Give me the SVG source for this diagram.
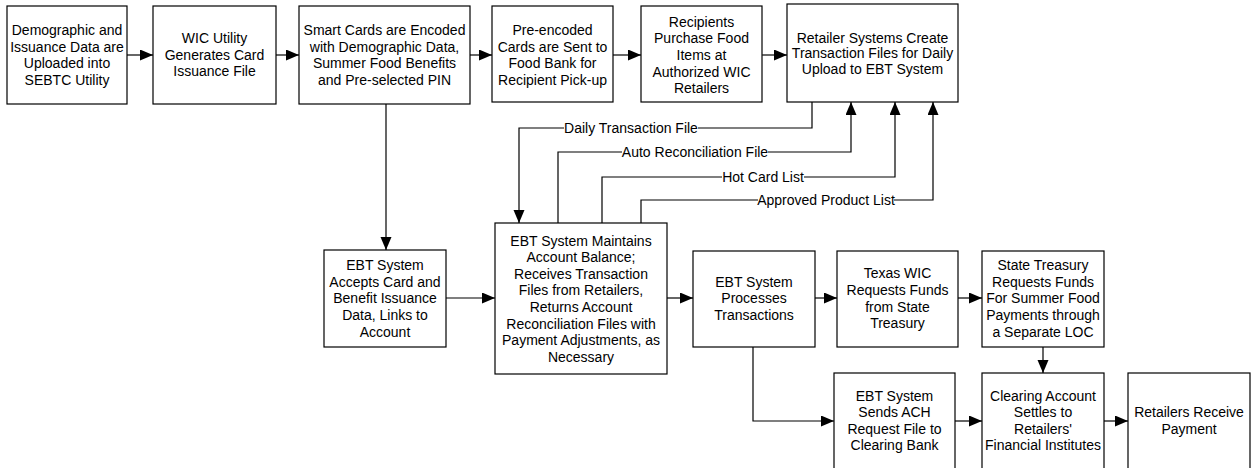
<svg xmlns="http://www.w3.org/2000/svg" width="1254" height="468" viewBox="0 0 1254 468">
<style>
.box{fill:#fff;stroke:#000;stroke-width:1.2}
.t{font-family:"Liberation Sans",Arial,sans-serif;font-size:14px;fill:#000;text-anchor:middle}
.c{fill:none;stroke:#000;stroke-width:1.2}
.bg{fill:#fff}
.lbl{font-family:"Liberation Sans",Arial,sans-serif;font-size:14px;fill:#000;text-anchor:middle}
</style>
<defs>
<marker id="ah" markerUnits="userSpaceOnUse" markerWidth="14" markerHeight="12" refX="13" refY="5.5" orient="auto">
<path d="M0,0 L13,5.5 L0,11 z" fill="#000"/>
</marker>
</defs>
<rect width="1254" height="468" fill="#fff"/>
<g id="connectors">
<path class="c" d="M127,55 H153" marker-end="url(#ah)"/>
<path class="c" d="M276,55 H299" marker-end="url(#ah)"/>
<path class="c" d="M470,55 H492" marker-end="url(#ah)"/>
<path class="c" d="M613,55 H641" marker-end="url(#ah)"/>
<path class="c" d="M762,55 H787" marker-end="url(#ah)"/>
<path class="c" d="M386,104 V250" marker-end="url(#ah)"/>
<path class="c" d="M446,298 H495" marker-end="url(#ah)"/>
<path class="c" d="M812,102 V128 H519 V223" marker-end="url(#ah)"/>
<path class="c" d="M558,223 V152 H851 V102" marker-end="url(#ah)"/>
<path class="c" d="M602,223 V177 H895 V102" marker-end="url(#ah)"/>
<path class="c" d="M641,223 V200 H933 V102" marker-end="url(#ah)"/>
<path class="c" d="M667,298 H693" marker-end="url(#ah)"/>
<path class="c" d="M815,298 H837" marker-end="url(#ah)"/>
<path class="c" d="M958,298 H982" marker-end="url(#ah)"/>
<path class="c" d="M1043,347 V373" marker-end="url(#ah)"/>
<path class="c" d="M753,347 V421 H834" marker-end="url(#ah)"/>
<path class="c" d="M955,421 H982" marker-end="url(#ah)"/>
<path class="c" d="M1104,421 H1128" marker-end="url(#ah)"/>
<rect class="bg" x="564" y="121" width="134" height="14"/>
<text class="lbl" x="631" y="133">Daily Transaction File</text>
<rect class="bg" x="622" y="145" width="146" height="14"/>
<text class="lbl" x="695" y="157">Auto Reconciliation File</text>
<rect class="bg" x="722" y="170" width="82" height="14"/>
<text class="lbl" x="763" y="182">Hot Card List</text>
<rect class="bg" x="758" y="193" width="136" height="14"/>
<text class="lbl" x="826" y="205">Approved Product List</text>
</g>
<g id="n1">
<rect class="box" x="7" y="6" width="120" height="98"/>
<text class="t"><tspan x="67" y="35">Demographic and</tspan><tspan x="67" y="52">Issuance Data are</tspan><tspan x="67" y="68">Uploaded into</tspan><tspan x="67" y="85">SEBTC Utility</tspan></text>
</g>
<g id="n2">
<rect class="box" x="153" y="6" width="123" height="98"/>
<text class="t"><tspan x="214.5" y="43">WIC Utility</tspan><tspan x="214.5" y="60">Generates Card</tspan><tspan x="214.5" y="76">Issuance File</tspan></text>
</g>
<g id="n3">
<rect class="box" x="299" y="6" width="171" height="98"/>
<text class="t"><tspan x="384.5" y="35">Smart Cards are Encoded</tspan><tspan x="384.5" y="52">with Demographic Data,</tspan><tspan x="384.5" y="68">Summer Food Benefits</tspan><tspan x="384.5" y="85">and Pre-selected PIN</tspan></text>
</g>
<g id="n4">
<rect class="box" x="492" y="6" width="121" height="96"/>
<text class="t"><tspan x="552.5" y="35">Pre-encoded</tspan><tspan x="552.5" y="52">Cards are Sent to</tspan><tspan x="552.5" y="68">Food Bank for</tspan><tspan x="552.5" y="85">Recipient Pick-up</tspan></text>
</g>
<g id="n5">
<rect class="box" x="641" y="6" width="121" height="96"/>
<text class="t"><tspan x="701.5" y="27">Recipients</tspan><tspan x="701.5" y="43">Purchase Food</tspan><tspan x="701.5" y="60">Items at</tspan><tspan x="701.5" y="77">Authorized WIC</tspan><tspan x="701.5" y="93">Retailers</tspan></text>
</g>
<g id="n6">
<rect class="box" x="787" y="4" width="171" height="98"/>
<text class="t"><tspan x="872.5" y="43">Retailer Systems Create</tspan><tspan x="872.5" y="58">Transaction Files for Daily</tspan><tspan x="872.5" y="74">Upload to EBT System</tspan></text>
</g>
<g id="n7">
<rect class="box" x="324" y="250" width="122" height="97"/>
<text class="t"><tspan x="385" y="270">EBT System</tspan><tspan x="385" y="287">Accepts Card and</tspan><tspan x="385" y="303">Benefit Issuance</tspan><tspan x="385" y="320">Data, Links to</tspan><tspan x="385" y="337">Account</tspan></text>
</g>
<g id="n8">
<rect class="box" x="495" y="223" width="172" height="151"/>
<text class="t"><tspan x="581" y="246">EBT System Maintains</tspan><tspan x="581" y="262">Account Balance;</tspan><tspan x="581" y="279">Receives Transaction</tspan><tspan x="581" y="295">Files from Retailers,</tspan><tspan x="581" y="312">Returns Account</tspan><tspan x="581" y="329">Reconciliation Files with</tspan><tspan x="581" y="345">Payment Adjustments, as</tspan><tspan x="581" y="362">Necessary</tspan></text>
</g>
<g id="n9">
<rect class="box" x="693" y="251" width="122" height="96"/>
<text class="t"><tspan x="754" y="287">EBT System</tspan><tspan x="754" y="303">Processes</tspan><tspan x="754" y="320">Transactions</tspan></text>
</g>
<g id="n10">
<rect class="box" x="837" y="251" width="121" height="96"/>
<text class="t"><tspan x="897.5" y="278">Texas WIC</tspan><tspan x="897.5" y="295">Requests Funds</tspan><tspan x="897.5" y="312">from State</tspan><tspan x="897.5" y="328">Treasury</tspan></text>
</g>
<g id="n11">
<rect class="box" x="982" y="251" width="122" height="96"/>
<text class="t"><tspan x="1043" y="270">State Treasury</tspan><tspan x="1043" y="287">Requests Funds</tspan><tspan x="1043" y="303">For Summer Food</tspan><tspan x="1043" y="320">Payments through</tspan><tspan x="1043" y="337">a Separate LOC</tspan></text>
</g>
<g id="n12">
<rect class="box" x="834" y="373" width="121" height="100"/>
<text class="t"><tspan x="894.5" y="401">EBT System</tspan><tspan x="894.5" y="417">Sends ACH</tspan><tspan x="894.5" y="434">Request File to</tspan><tspan x="894.5" y="450">Clearing Bank</tspan></text>
</g>
<g id="n13">
<rect class="box" x="982" y="373" width="122" height="100"/>
<text class="t"><tspan x="1043" y="401">Clearing Account</tspan><tspan x="1043" y="417">Settles to</tspan><tspan x="1043" y="434">Retailers'</tspan><tspan x="1043" y="450">Financial Institutes</tspan></text>
</g>
<g id="n14">
<rect class="box" x="1128" y="373" width="122" height="100"/>
<text class="t"><tspan x="1189" y="417">Retailers Receive</tspan><tspan x="1189" y="434">Payment</tspan></text>
</g>
</svg>
